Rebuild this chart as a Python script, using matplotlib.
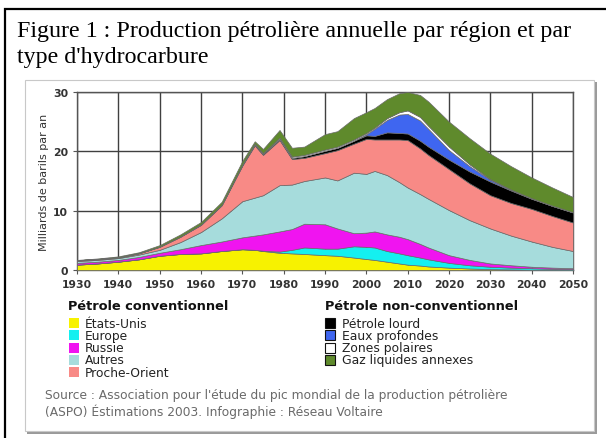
import matplotlib
matplotlib.use('Agg')
import matplotlib.pyplot as plt
from matplotlib.patches import Rectangle
import numpy as np

W, H = 606, 439

# data (milliards de barils par an, per layer)
years = [1930, 1935, 1940, 1945, 1950, 1955, 1960, 1965, 1970, 1973, 1975, 1979, 1982, 1985,
         1990, 1993, 1997, 2000, 2002, 2005, 2008, 2010, 2013, 2015, 2020, 2025, 2030, 2035,
         2040, 2045, 2050]
etats_unis = [0.9, 1.1, 1.4, 1.8, 2.4, 2.7, 2.8, 3.2, 3.5, 3.4, 3.2, 2.9, 2.8, 2.7,
              2.5, 2.4, 2.1, 1.85, 1.7, 1.4, 1.1, 0.9, 0.75, 0.6, 0.4, 0.25, 0.15, 0.1,
              0.05, 0.03, 0.0]
europe = [0, 0, 0, 0, 0, 0, 0, 0, 0, 0, 0.05, 0.2, 0.6, 1.1,
          1.1, 1.2, 1.9, 2.05, 2.1, 1.8, 1.7, 1.6, 1.35, 1.2, 0.8, 0.55, 0.4, 0.3,
          0.25, 0.17, 0.15]
russie = [0.3, 0.3, 0.3, 0.4, 0.5, 0.8, 1.4, 1.6, 2.0, 2.4, 2.75, 3.4, 3.5, 4.0,
          4.1, 3.4, 2.2, 2.4, 2.7, 2.8, 2.8, 2.7, 2.3, 2.0, 1.3, 0.9, 0.55, 0.4,
          0.25, 0.2, 0.15]
autres = [0.3, 0.3, 0.3, 0.4, 0.5, 1.2, 2.2, 3.9, 6.1, 6.4, 6.6, 7.8, 7.5, 7.2,
          7.9, 8.1, 10.2, 9.9, 10.2, 10.0, 9.2, 8.7, 8.4, 8.2, 7.6, 6.7, 5.9, 5.0,
          4.25, 3.5, 2.9]
proche_orient = [0.1, 0.1, 0.1, 0.2, 0.5, 0.9, 1.2, 2.2, 6.0, 8.8, 6.8, 7.6, 4.3, 3.9,
                 4.1, 5.1, 4.9, 5.9, 5.3, 6.0, 7.2, 8.0, 7.7, 7.4, 6.9, 6.2, 5.6, 5.5,
                 5.5, 5.2, 4.8]
petrole_lourd = [0.05, 0.05, 0.05, 0.05, 0.05, 0.05, 0.1, 0.1, 0.2, 0.2, 0.2, 0.2, 0.2, 0.3,
                 0.4, 0.4, 0.5, 0.6, 0.6, 1.2, 1.1, 1.1, 1.3, 1.4, 1.6, 2.0, 2.3, 2.1,
                 1.7, 1.7, 1.7]
eaux_profondes = [0, 0, 0, 0, 0, 0, 0, 0, 0, 0, 0, 0, 0, 0,
                  0, 0, 0, 0.2, 1.2, 2.1, 3.1, 3.3, 3.4, 3.0, 1.6, 0.9, 0.3, 0.1,
                  0.05, 0, 0]
zones_polaires = [0, 0, 0, 0, 0, 0, 0, 0, 0, 0.1, 0.1, 0.2, 0.2, 0.2,
                  0.2, 0.2, 0.2, 0.2, 0.2, 0.3, 0.4, 0.6, 0.6, 0.5, 0.6, 0.3, 0.1, 0.05,
                  0.05, 0.05, 0.05]
gaz_liquides = [0.05, 0.1, 0.15, 0.15, 0.25, 0.35, 0.4, 0.5, 0.6, 0.4, 0.7, 1.3, 1.5, 1.4,
                2.6, 2.6, 3.6, 3.5, 3.3, 3.2, 3.2, 3.1, 3.7, 4.1, 4.2, 4.4, 4.3, 3.95,
                3.5, 3.05, 2.55]

conv_labels = ['États-Unis', 'Europe', 'Russie', 'Autres', 'Proche-Orient']
nonconv_labels = ['Pétrole lourd', 'Eaux profondes', 'Zones polaires', 'Gaz liquides annexes']
conv_colors = ['#f7f200', '#14f0f0', '#f014f0', '#a6dcdc', '#f88a86']
nonconv_colors = ['#000000', '#3f66f0', '#ffffff', '#5f8a2c']


def fx(x):
    return x / W


def fy(y):
    return 1 - y / H


def box(x0, y0, x1, y1, **kw):
    # rectangle given in pixel coords (top-left origin)
    r = Rectangle((fx(x0), fy(y1)), fx(x1) - fx(x0), fy(y0) - fy(y1),
                  transform=fig.transFigure, zorder=-1, **kw)
    fig.add_artist(r)


fig = plt.figure(figsize=(W / 100, H / 100), dpi=100)
fig.patch.set_facecolor('white')

# outer black frame (only left and top edges visible in the crop)
box(5, 10, 610, 445, fill=False, ec='black', lw=1.6)

# title
serif = 'Liberation Serif'
fig.text(fx(17), fy(37), 'Figure 1 : Production pétrolière annuelle par région et par',
         family=serif, fontsize=17.3, va='baseline', ha='left')
fig.text(fx(17), fy(63), "type d'hydrocarbure", family=serif, fontsize=17.3,
         va='baseline', ha='left')

# inner picture box with shadow
box(27, 83, 597, 435, fc='#9a9a9a', ec='none')
box(25, 81, 594, 432, fc='white', ec='#c8c8c8', lw=0.8)

# chart
ax = fig.add_axes([fx(77), fy(271), fx(573) - fx(77), fy(93) - fy(271)])
ax.set_zorder(2)
series = etats_unis, europe, russie, autres, proche_orient, petrole_lourd, \
    eaux_profondes, zones_polaires, gaz_liquides
ax.stackplot(years, *series, colors=conv_colors + nonconv_colors,
             edgecolor='#6a6a6a', linewidth=0.5, zorder=3)
ax.set_xlim(1930, 2050)
ax.set_ylim(0, 30)
ax.set_xticks(np.arange(1930, 2051, 10))
ax.set_yticks([0, 10, 20, 30])
ax.grid(True, color='#404040', lw=1.0, zorder=0)
ax.set_axisbelow(True)
for s in ax.spines.values():
    s.set_color('#555555')
    s.set_linewidth(1.0)
ax.tick_params(axis='both', colors='#555555', labelcolor='#333333', labelsize=7.8,
               length=3, width=0.8)
for lab in ax.get_xticklabels() + ax.get_yticklabels():
    lab.set_fontweight('bold')
ax.set_ylabel('Milliards de barils par an', fontsize=8, color='#333333', labelpad=3)

# legend
fig.text(fx(68), fy(307), 'Pétrole conventionnel', fontsize=9.3, fontweight='bold',
         color='#111111', va='center')
fig.text(fx(325), fy(307), 'Pétrole non-conventionnel', fontsize=9.3, fontweight='bold',
         color='#111111', va='center')
for i in range(len(conv_labels)):
    yc = 324 + i * 12.3
    box(69, yc - 5, 79, yc + 5, fc=conv_colors[i], ec='none')
    fig.text(fx(85), fy(yc), conv_labels[i], fontsize=8.8, color='#222222', va='center')
for i in range(len(nonconv_labels)):
    yc = 324 + i * 12.3
    box(325, yc - 5, 335, yc + 5, fc=nonconv_colors[i], ec='#111111', lw=0.8)
    fig.text(fx(342), fy(yc), nonconv_labels[i], fontsize=8.9, color='#222222',
             va='center')

# source
fig.text(fx(45), fy(396),
         "Source : Association pour l'étude du pic mondial de la production pétrolière",
         fontsize=8.8, color='#6a6a6a', va='center')
fig.text(fx(45), fy(412), '(ASPO) Éstimations 2003. Infographie : Réseau Voltaire',
         fontsize=8.8, color='#6a6a6a', va='center')

fig.savefig('out.png', dpi=100)
